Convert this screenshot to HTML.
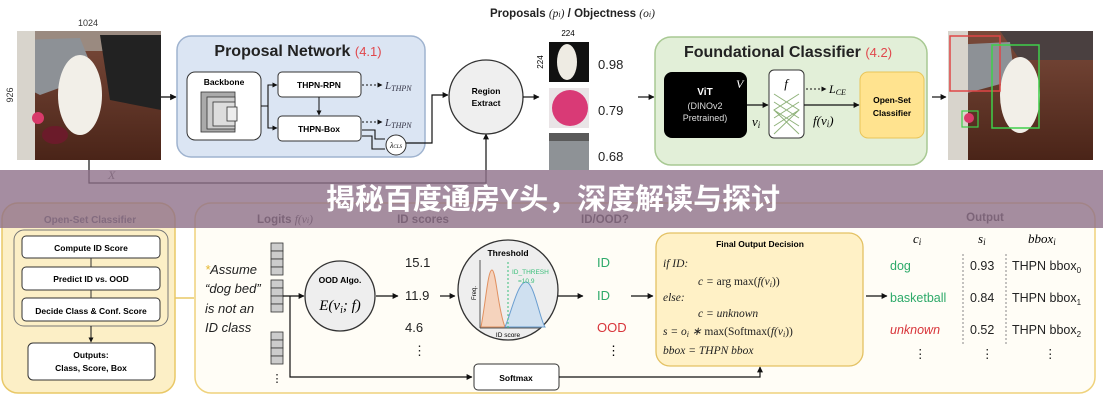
<!DOCTYPE html>
<html><head><meta charset="utf-8"><style>
html,body{margin:0;padding:0;background:#fff;}
svg{display:block;font-family:"Liberation Sans",sans-serif;}
.m{font-family:"Liberation Serif",serif;font-style:italic;}
</style></head><body>
<svg width="1103" height="400" viewBox="0 0 1103 400" xmlns="http://www.w3.org/2000/svg">
<defs>
<marker id="a" viewBox="0 0 10 10" refX="9" refY="5" markerWidth="5" markerHeight="5" orient="auto"><path d="M0,0L10,5L0,10z" fill="#111"/></marker>
<linearGradient id="fl" x1="0" y1="0" x2="0" y2="1"><stop offset="0" stop-color="#7a4a3a"/><stop offset="1" stop-color="#4a2418"/></linearGradient>
</defs>
<rect width="1103" height="400" fill="#fff"/>

<!-- left photo -->
<text x="88" y="26" font-size="9" text-anchor="middle" fill="#333">1024</text>
<text x="13" y="95" font-size="9" text-anchor="middle" fill="#333" transform="rotate(-90 13 95)">926</text>
<rect x="17" y="31" width="144" height="129" fill="url(#fl)"/>
<rect x="17" y="31" width="144" height="20" fill="#9a8a80"/>
<path d="M20,40 L80,38 L95,75 L40,95 L20,85z" fill="#8d9196"/>
<rect x="17" y="31" width="18" height="129" fill="#d8d4cc"/>
<path d="M100,35 L161,35 L161,110 L110,100z" fill="#222"/>
<ellipse cx="80" cy="95" rx="22" ry="40" fill="#f2efe8"/>
<circle cx="38" cy="118" r="6" fill="#d83a6a"/>
<ellipse cx="55" cy="135" rx="13" ry="9" fill="#6b1b2a"/>
<line x1="161" y1="97" x2="176" y2="97" stroke="#111" stroke-width="1.3" marker-end="url(#a)"/>

<!-- Proposal network -->
<rect x="177" y="36" width="248" height="121" rx="14" fill="#dbe5f3" stroke="#9fb3cf" stroke-width="1.5"/>
<text x="298" y="56" font-size="16" font-weight="bold" text-anchor="middle" fill="#222">Proposal Network <tspan fill="#e0474c" font-weight="normal" font-size="13">(4.1)</tspan></text>
<rect x="187" y="72" width="74" height="68" rx="8" fill="#fff" stroke="#333"/>
<text x="224" y="85" font-size="8.5" font-weight="bold" text-anchor="middle">Backbone</text>
<rect x="201" y="92" width="34" height="40" fill="#aaa" stroke="#333" stroke-width=".8"/>
<rect x="207" y="97" width="28" height="32" fill="#ccc" stroke="#333" stroke-width=".8"/>
<rect x="213" y="102" width="22" height="24" fill="#ddd" stroke="#333" stroke-width=".8"/>
<rect x="227" y="107" width="10" height="14" fill="#eee" stroke="#333" stroke-width=".8"/>
<rect x="278" y="72" width="83" height="25" rx="4" fill="#fff" stroke="#333"/>
<text x="319" y="88" font-size="8.5" font-weight="bold" text-anchor="middle">THPN-RPN</text>
<rect x="278" y="116" width="83" height="25" rx="4" fill="#fff" stroke="#333"/>
<text x="319" y="132" font-size="8.5" font-weight="bold" text-anchor="middle">THPN-Box</text>
<path d="M261,106 H268 V85 H277 M268,106 V128 H277" fill="none" stroke="#111" stroke-width="1.1"/>
<line x1="268" y1="85" x2="277" y2="85" stroke="#111" marker-end="url(#a)"/>
<line x1="268" y1="128" x2="277" y2="128" stroke="#111" marker-end="url(#a)"/>
<line x1="319" y1="97" x2="319" y2="115" stroke="#111" marker-end="url(#a)"/>
<line x1="362" y1="85" x2="382" y2="85" stroke="#111" stroke-dasharray="2,2" marker-end="url(#a)"/>
<line x1="362" y1="122" x2="382" y2="122" stroke="#111" stroke-dasharray="2,2" marker-end="url(#a)"/>
<text x="385" y="89" class="m" font-size="11" fill="#334">L<tspan font-size="8" dy="2">THPN</tspan></text>
<text x="385" y="126" class="m" font-size="11" fill="#334">L<tspan font-size="8" dy="2">THPN</tspan></text>
<path d="M362,130 H375 V139 H385 M362,136 H372 V149 H385" fill="none" stroke="#111" stroke-width="1.1"/>
<circle cx="396" cy="145" r="10" fill="#fff" stroke="#333"/>
<text x="396" y="148" class="m" font-size="8" text-anchor="middle">λ<tspan font-size="5">CLS</tspan></text>
<path d="M406,143 H432 V95 H448" fill="none" stroke="#111" stroke-width="1.2" marker-end="url(#a)"/>
<path d="M89,160 V183 H486 V134" fill="none" stroke="#111" stroke-width="1.2" marker-end="url(#a)"/>
<text x="108" y="179" class="m" font-size="12" fill="#555">X</text>
<circle cx="486" cy="97" r="37" fill="#efefef" stroke="#333" stroke-width="1.3"/>
<text x="486" y="94" font-size="8.5" font-weight="bold" text-anchor="middle">Region</text>
<text x="486" y="106" font-size="8.5" font-weight="bold" text-anchor="middle">Extract</text>
<line x1="523" y1="97" x2="539" y2="97" stroke="#111" stroke-width="1.2" marker-end="url(#a)"/>

<!-- proposals -->
<text x="490" y="17" font-size="11.5" font-weight="bold" fill="#222">Proposals <tspan class="m" font-weight="normal">(p<tspan font-size="8">i</tspan>)</tspan> / Objectness <tspan class="m" font-weight="normal">(o<tspan font-size="8">i</tspan>)</tspan></text>
<text x="568" y="36" font-size="8" text-anchor="middle">224</text>
<text x="543" y="62" font-size="8" text-anchor="middle" transform="rotate(-90 543 62)">224</text>
<rect x="549" y="42" width="40" height="40" fill="#111"/><ellipse cx="567" cy="62" rx="10" ry="18" fill="#eeebe3"/>
<rect x="549" y="88" width="40" height="40" fill="#e9e4e6"/><circle cx="570" cy="108" r="18" fill="#d93a76"/>
<rect x="549" y="133" width="40" height="37" fill="#8e9296"/><rect x="549" y="133" width="40" height="8" fill="#5a5a5a"/>
<text x="598" y="69" font-size="13" fill="#222">0.98</text>
<text x="598" y="115" font-size="13" fill="#222">0.79</text>
<text x="598" y="161" font-size="13" fill="#222">0.68</text>
<line x1="638" y1="97" x2="654" y2="97" stroke="#111" stroke-width="1.2" marker-end="url(#a)"/>

<!-- foundational classifier -->
<rect x="655" y="37" width="272" height="128" rx="16" fill="#e2efd8" stroke="#a8c993" stroke-width="1.5"/>
<text x="788" y="57" font-size="16" font-weight="bold" text-anchor="middle" fill="#222">Foundational Classifier <tspan fill="#e0474c" font-weight="normal" font-size="13">(4.2)</tspan></text>
<rect x="664" y="72" width="83" height="66" rx="8" fill="#000"/>
<text x="705" y="95" font-size="10" font-weight="bold" fill="#fff" text-anchor="middle">ViT</text>
<text x="705" y="109" font-size="9" fill="#ddd" text-anchor="middle">(DINOv2</text>
<text x="705" y="121" font-size="9" fill="#ddd" text-anchor="middle">Pretrained)</text>
<text x="736" y="88" class="m" font-size="12" fill="#fff">V</text>
<rect x="769" y="70" width="35" height="68" rx="5" fill="#fff" stroke="#333"/>
<text x="786" y="88" class="m" font-size="13" text-anchor="middle">f</text>
<path d="M774,94 L799,110 L774,126 M799,94 L774,110 L799,126 M774,102 L799,118 M799,102 L774,118 M774,110 L799,134 M799,110 L774,134" stroke="#8fb27a" fill="none" stroke-width="1"/>
<line x1="747" y1="105" x2="768" y2="105" stroke="#111" stroke-width="1.2" marker-end="url(#a)"/>
<line x1="804" y1="105" x2="859" y2="105" stroke="#111" stroke-width="1.2" marker-end="url(#a)"/>
<text x="752" y="126" class="m" font-size="13">v<tspan font-size="9" dy="2">i</tspan></text>
<text x="813" y="125" class="m" font-size="13">f(v<tspan font-size="9" dy="2">i</tspan><tspan dy="-2">)</tspan></text>
<line x1="806" y1="89" x2="826" y2="89" stroke="#111" stroke-dasharray="2,2" marker-end="url(#a)"/>
<text x="829" y="93" class="m" font-size="12">L<tspan font-size="8" dy="2">CE</tspan></text>
<rect x="860" y="72" width="64" height="66" rx="8" fill="#ffe38f" stroke="#e8c55a"/>
<text x="892" y="103" font-size="8.5" font-weight="bold" text-anchor="middle">Open-Set</text>
<text x="892" y="116" font-size="8.5" font-weight="bold" text-anchor="middle">Classifier</text>
<line x1="932" y1="97" x2="946" y2="97" stroke="#111" stroke-width="1.2" marker-end="url(#a)"/>

<!-- right photo -->
<rect x="948" y="31" width="145" height="129" fill="url(#fl)"/>
<path d="M948,31 L1093,31 L1093,60 L1020,60 L1000,31z" fill="#4a4040"/>
<path d="M950,45 L1010,42 L1015,80 L960,95z" fill="#8d9196"/>
<rect x="948" y="31" width="20" height="129" fill="#d8d4cc"/>
<ellipse cx="1020" cy="95" rx="20" ry="38" fill="#f2efe8"/>
<rect x="950" y="36" width="50" height="55" fill="none" stroke="#e04646" stroke-width="1.5"/>
<rect x="992" y="45" width="47" height="83" fill="none" stroke="#3fcf4a" stroke-width="1.5"/>
<rect x="962" y="111" width="16" height="16" fill="none" stroke="#3fcf4a" stroke-width="1.2"/>
<circle cx="969" cy="118" r="5" fill="#d83a6a"/>

<!-- bottom: open-set classifier -->
<rect x="2" y="203" width="173" height="190" rx="16" fill="#fcefc6" stroke="#e9c867" stroke-width="1.5"/>
<text x="90" y="223" font-size="10" font-weight="bold" fill="#555" text-anchor="middle">Open-Set Classifier</text>
<rect x="14" y="230" width="154" height="96" rx="10" fill="none" stroke="#777"/>
<rect x="22" y="236" width="138" height="22" rx="4" fill="#fff" stroke="#333"/>
<text x="91" y="251" font-size="8.5" font-weight="bold" text-anchor="middle">Compute ID Score</text>
<rect x="22" y="267" width="138" height="23" rx="4" fill="#fff" stroke="#333"/>
<text x="91" y="282" font-size="8.5" font-weight="bold" text-anchor="middle">Predict ID vs. OOD</text>
<rect x="22" y="298" width="138" height="23" rx="4" fill="#fff" stroke="#333"/>
<text x="91" y="314" font-size="8.5" font-weight="bold" text-anchor="middle">Decide Class &amp; Conf. Score</text>
<line x1="91" y1="258" x2="91" y2="267" stroke="#333"/><line x1="91" y1="290" x2="91" y2="298" stroke="#333"/>
<line x1="91" y1="326" x2="91" y2="342" stroke="#111" marker-end="url(#a)"/>
<rect x="28" y="343" width="127" height="37" rx="5" fill="#fff" stroke="#333"/>
<text x="91" y="358" font-size="8.5" font-weight="bold" text-anchor="middle">Outputs:</text>
<text x="91" y="371" font-size="8.5" font-weight="bold" text-anchor="middle">Class, Score, Box</text>
<line x1="175" y1="298" x2="194" y2="298" stroke="#e9c867" stroke-width="1.5"/>

<!-- main bottom box -->
<rect x="195" y="203" width="900" height="190" rx="16" fill="#fffdf6" stroke="#efd27c" stroke-width="1.5"/>
<text x="285" y="223" font-size="11.5" font-weight="bold" fill="#333" text-anchor="middle">Logits <tspan class="m" font-weight="normal">f(v<tspan font-size="8">i</tspan>)</tspan></text>
<text x="423" y="223" font-size="11.5" font-weight="bold" fill="#333" text-anchor="middle">ID scores</text>
<text x="605" y="223" font-size="11.5" font-weight="bold" fill="#333" text-anchor="middle">ID/OOD?</text>
<text x="985" y="221" font-size="11.5" font-weight="bold" fill="#333" text-anchor="middle">Output</text>
<g font-size="13" font-style="italic" fill="#222">
<text x="205" y="274"><tspan fill="#e6b830">*</tspan>Assume</text>
<text x="205" y="293">“dog bed”</text>
<text x="205" y="313">is not an</text>
<text x="205" y="332">ID class</text></g>
<g fill="#ccc" stroke="#333" stroke-width=".8">
<rect x="271" y="243" width="12" height="8"/><rect x="271" y="251" width="12" height="8"/><rect x="271" y="259" width="12" height="8"/><rect x="271" y="267" width="12" height="8"/>
<rect x="271" y="280" width="12" height="8"/><rect x="271" y="288" width="12" height="8"/><rect x="271" y="296" width="12" height="8"/><rect x="271" y="304" width="12" height="8"/>
<rect x="271" y="332" width="12" height="8"/><rect x="271" y="340" width="12" height="8"/><rect x="271" y="348" width="12" height="8"/><rect x="271" y="356" width="12" height="8"/></g>
<text x="277" y="356" font-size="11" text-anchor="middle" dy="26">⋮</text>
<path d="M283,296 H304" stroke="#111" stroke-width="1.2" marker-end="url(#a)"/>
<path d="M290,296 V377 H472" fill="none" stroke="#111" stroke-width="1.2" marker-end="url(#a)"/>
<circle cx="340" cy="296" r="35" fill="#eee" stroke="#333" stroke-width="1.3"/>
<text x="340" y="283" font-size="8.5" font-weight="bold" text-anchor="middle">OOD Algo.</text>
<text x="340" y="310" class="m" font-size="15" text-anchor="middle">E(v<tspan font-size="10" dy="3">i</tspan><tspan dy="-3">; f)</tspan></text>
<line x1="376" y1="296" x2="398" y2="296" stroke="#111" stroke-width="1.2" marker-end="url(#a)"/>
<g font-size="13" fill="#222"><text x="405" y="267">15.1</text><text x="405" y="300">11.9</text><text x="405" y="332">4.6</text><text x="413" y="355">⋮</text></g>
<line x1="440" y1="296" x2="455" y2="296" stroke="#111" stroke-width="1.2" marker-end="url(#a)"/>
<circle cx="508" cy="290" r="50" fill="#eee" stroke="#333" stroke-width="1.3"/>
<text x="508" y="256" font-size="8.5" font-weight="bold" text-anchor="middle">Threshold</text>
<path d="M480,328 V260 M480,328 H540" stroke="#555" fill="none"/>
<path d="M481,327 C486,300 488,270 492,270 C496,270 498,310 505,327z" fill="#f5d3bd" stroke="#e09060"/>
<path d="M505,327 C512,310 518,282 526,282 C534,282 540,320 545,327z" fill="#cfe0f0" stroke="#6a9ed0"/>
<line x1="508" y1="262" x2="508" y2="328" stroke="#3bbf7a" stroke-dasharray="2,2"/>
<text x="512" y="274" font-size="6.5" fill="#3bbf7a">ID_THRESH</text>
<text x="518" y="283" font-size="6.5" fill="#3bbf7a">=10.9</text>
<text x="508" y="337" font-size="6.5" text-anchor="middle">ID score</text>
<text x="476" y="300" font-size="6" transform="rotate(-90 476 300)">Freq.</text>
<line x1="558" y1="296" x2="583" y2="296" stroke="#111" stroke-width="1.2" marker-end="url(#a)"/>
<g font-size="13"><text x="597" y="267" fill="#2eaa6a">ID</text><text x="597" y="300" fill="#2eaa6a">ID</text><text x="597" y="332" fill="#d8343a">OOD</text><text x="607" y="355">⋮</text></g>
<line x1="631" y1="296" x2="653" y2="296" stroke="#111" stroke-width="1.2" marker-end="url(#a)"/>
<rect x="474" y="364" width="85" height="26" rx="4" fill="#fff" stroke="#333"/>
<text x="516" y="381" font-size="8.5" font-weight="bold" text-anchor="middle">Softmax</text>
<path d="M559,377 H760 V367" fill="none" stroke="#111" stroke-width="1.2" marker-end="url(#a)"/>
<rect x="656" y="233" width="207" height="133" rx="14" fill="#fff1c6" stroke="#e3c163" stroke-width="1.3"/>
<text x="760" y="247" font-size="8.5" font-weight="bold" text-anchor="middle">Final Output Decision</text>
<g class="m" font-size="11.5" fill="#222">
<text x="663" y="267">if ID:</text>
<text x="698" y="285">c = <tspan font-style="normal">arg max(</tspan>f(v<tspan font-size="8" dy="2">i</tspan><tspan dy="-2" font-style="normal">))</tspan></text>
<text x="663" y="301">else:</text>
<text x="698" y="317">c = unknown</text>
<text x="663" y="335">s = o<tspan font-size="8" dy="2">i</tspan><tspan dy="-2"> ∗ </tspan><tspan font-style="normal">max(Softmax(</tspan>f(v<tspan font-size="8" dy="2">i</tspan><tspan dy="-2" font-style="normal">))</tspan></text>
<text x="663" y="354">bbox = THPN bbox</text></g>
<line x1="866" y1="296" x2="887" y2="296" stroke="#111" stroke-width="1.2" marker-end="url(#a)"/>
<g class="m" font-size="13"><text x="913" y="243">c<tspan font-size="9" dy="2">i</tspan></text><text x="978" y="243">s<tspan font-size="9" dy="2">i</tspan></text><text x="1028" y="243">bbox<tspan font-size="9" dy="2">i</tspan></text></g>
<line x1="963" y1="254" x2="963" y2="345" stroke="#888" stroke-dasharray="2,2"/>
<line x1="1006" y1="254" x2="1006" y2="345" stroke="#888" stroke-dasharray="2,2"/>
<g font-size="12.5" fill="#222">
<text x="890" y="270" fill="#2eaa6a">dog</text><text x="890" y="302" fill="#2eaa6a">basketball</text><text x="890" y="334" fill="#d8343a" font-style="italic">unknown</text>
<text x="970" y="270">0.93</text><text x="970" y="302">0.84</text><text x="970" y="334">0.52</text>
<text x="1012" y="270">THPN bbox<tspan font-size="8" dy="3">0</tspan></text>
<text x="1012" y="302">THPN bbox<tspan font-size="8" dy="3">1</tspan></text>
<text x="1012" y="334">THPN bbox<tspan font-size="8" dy="3">2</tspan></text>
<text x="914" y="358">⋮</text><text x="981" y="358">⋮</text><text x="1044" y="358">⋮</text></g>

<!-- banner -->
<rect x="0" y="170" width="1103" height="58" fill="#8f7189" fill-opacity="0.8"/>
<text x="553" y="209" font-size="29" font-weight="bold" fill="#fff" text-anchor="middle" font-family="'Liberation Sans','Noto Sans CJK SC',sans-serif">揭秘百度通房Y头，深度解读与探讨</text>
</svg>
</body></html>
